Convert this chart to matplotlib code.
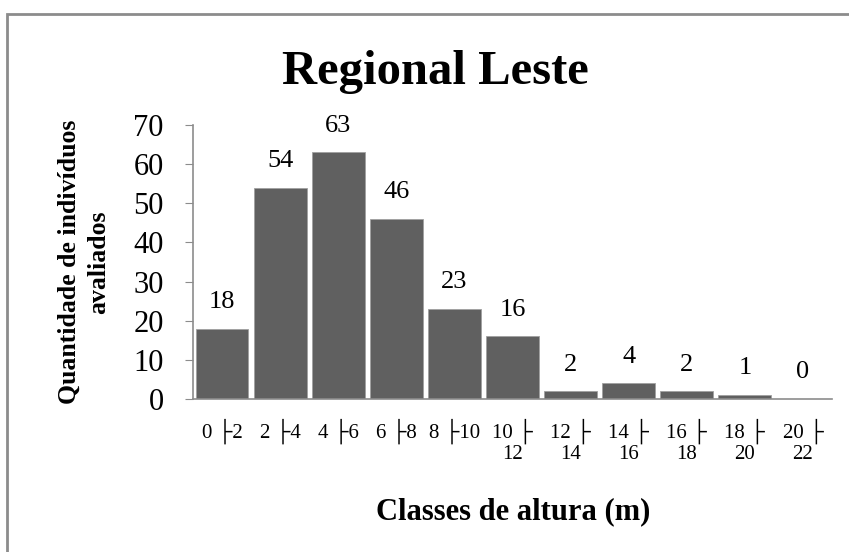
import matplotlib
matplotlib.use("Agg")
import matplotlib.pyplot as plt
from matplotlib.patches import Rectangle

categories = ["0 ├2", "2 ├4", "4 ├6", "6 ├8", "8 ├10", "10 ├\n12", "12 ├\n14",
              "14 ├\n16", "16 ├\n18", "18 ├\n20", "20 ├\n22"]
values = [18, 54, 63, 46, 23, 16, 2, 4, 2, 1, 0]
yticks = [0, 10, 20, 30, 40, 50, 60, 70]

serif = ["Liberation Serif", "DejaVu Serif", "DejaVu Sans"]
plt.rcParams["font.family"] = serif

fig = plt.figure(figsize=(8.49, 5.52), dpi=100)
fig.patches.append(Rectangle((6.5/849, -0.1), 1.2, (552-14)/552 + 0.1, transform=fig.transFigure,
                             fill=False, edgecolor="#8c8c8c", linewidth=2.0))

ax = fig.add_axes([193/849, 1-399/552, (832-193)/849, (399-125)/552])
x = range(len(categories))
bars = ax.bar(x, values, width=0.91, color="#606060", edgecolor="#a0a0a0", linewidth=0.6)
for xi, v in zip(x, values):
    ax.text(xi, v + 4.0, str(v), ha="center", va="bottom", fontsize=19)

ax.set_xlim(-0.5, len(categories) - 0.5)
ax.set_ylim(0, 70)
ax.set_yticks(yticks)
ax.set_yticklabels([str(t) for t in yticks], fontsize=22)
ax.set_xticks(list(x))
ax.set_xticklabels(categories, fontsize=15, linespacing=1.1)
ax.tick_params(axis="x", length=0, pad=14)
ax.tick_params(axis="y", length=6, color="#8c8c8c", pad=15)
for s in ["top", "right"]:
    ax.spines[s].set_visible(False)
for s in ["left", "bottom"]:
    ax.spines[s].set_color("#8c8c8c")
    ax.spines[s].set_linewidth(1.2)

fig.text(435/849, 1-72/552, "Regional Leste", ha="center", va="center",
         fontsize=35, fontweight="bold")
fig.text(513/849, 1-512/552, "Classes de altura (m)", ha="center", va="center",
         fontsize=22, fontweight="bold")
fig.text(84/849, 1-262/552, "Quantidade de indivíduos\navaliados", ha="center", va="center",
         rotation=90, fontsize=18.5, fontweight="bold", linespacing=1.35)

fig.savefig("out.png", dpi=100)
